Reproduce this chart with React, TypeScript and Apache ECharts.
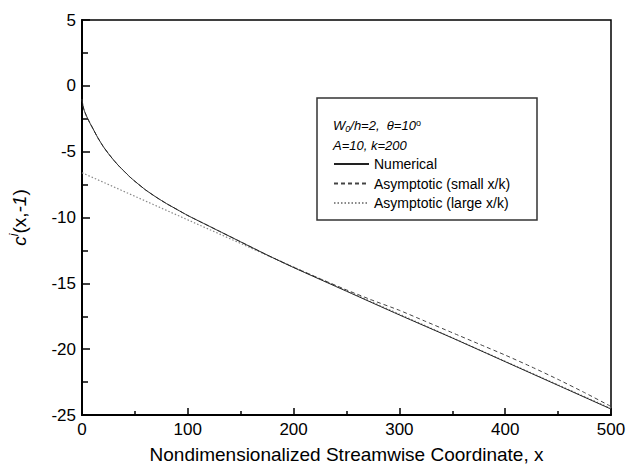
import React, { useEffect, useRef } from "react";
import * as echarts from "echarts";

const numericalX = [0, 1, 2, 4, 7, 10, 15, 20, 25, 30, 35, 40, 45, 50, 60, 70, 80, 90, 100, 115, 130, 150, 175, 200, 250, 300, 350, 400, 450, 500];
const numericalY = [-1.0, -1.55, -1.85, -2.25, -2.75, -3.2, -3.95, -4.6, -5.15, -5.65, -6.1, -6.5, -6.9, -7.25, -7.9, -8.45, -8.95, -9.4, -9.85, -10.45, -11.05, -11.85, -12.85, -13.8, -15.6, -17.4, -19.15, -20.95, -22.75, -24.55];

const smallX = [0, 1, 2, 4, 7, 10, 15, 20, 25, 30, 35, 40, 45, 50, 60, 70, 80, 90, 100, 115, 130, 150, 175, 200, 225, 250, 275, 300, 325, 350, 375, 400, 425, 450, 475, 500];
const smallY = [-1.0, -1.55, -1.85, -2.25, -2.75, -3.2, -3.95, -4.6, -5.15, -5.65, -6.1, -6.5, -6.9, -7.25, -7.9, -8.45, -8.95, -9.4, -9.85, -10.45, -11.05, -11.85, -12.85, -13.78, -14.65, -15.5, -16.3, -17.05, -17.9, -18.75, -19.6, -20.45, -21.35, -22.3, -23.3, -24.35];

const largeX = [0, 500];
const largeY = [-6.6, -24.5];

const xTicks = { min: 0, max: 500, interval: 100 };
const yTicks = { min: -25, max: 5, interval: 5 };

const seriesNames = ["Numerical", "Asymptotic (small x/k)", "Asymptotic (large x/k)"];

const FONT = "'Liberation Sans', Arial, Helvetica, sans-serif";

const zip = (xs: number[], ys: number[]) => xs.map((x, i) => [x, ys[i]]);

export default function App() {
  const ref = useRef<HTMLDivElement>(null);
  useEffect(() => {
    if (!ref.current) return;
    const chart = echarts.init(ref.current, undefined, { renderer: "svg" });
    chart.setOption({
      animation: false,
      backgroundColor: "#fff",
      grid: { left: 80, right: 18, top: 20, bottom: 52, show: true, borderColor: "#000", borderWidth: 1.5, backgroundColor: "transparent" },
      xAxis: {
        type: "value",
        min: xTicks.min,
        max: xTicks.max,
        interval: xTicks.interval,
        splitLine: { show: false },
        axisLine: { show: true, onZero: false, lineStyle: { color: "#000", width: 2 } },
        axisTick: { show: true, inside: true, length: 7, lineStyle: { color: "#000", width: 1.5 } },
        minorTick: { show: true, splitNumber: 2, length: 4, lineStyle: { color: "#000", width: 1.5 } },
        axisLabel: { color: "#000", fontSize: 17, fontFamily: FONT, margin: 6 },
        name: "Nondimensionalized Streamwise Coordinate, x",
        nameLocation: "middle",
        nameGap: 30,
        nameTextStyle: { color: "#000", fontSize: 19, fontFamily: FONT },
      },
      yAxis: {
        type: "value",
        min: yTicks.min,
        max: yTicks.max,
        interval: yTicks.interval,
        splitLine: { show: false },
        axisLine: { show: true, onZero: false, lineStyle: { color: "#000", width: 2 } },
        axisTick: { show: true, inside: true, length: 8, lineStyle: { color: "#000", width: 1.5 } },
        minorTick: { show: true, splitNumber: 2, length: 6, lineStyle: { color: "#000", width: 1.5 } },
        axisLabel: { color: "#000", fontSize: 17, fontFamily: FONT, margin: 6 },
        name: "{it|c}{sup|i}{n|(x,}{it|-1}{n|)}",
        nameLocation: "middle",
        nameRotate: 90,
        nameGap: 52,
        nameTextStyle: {
          color: "#000",
          fontSize: 19,
          fontFamily: FONT,
          rich: {
            it: { fontStyle: "italic", fontSize: 19, fontFamily: FONT, color: "#000" },
            n: { fontSize: 19, fontFamily: FONT, color: "#000" },
            sup: { fontStyle: "italic", fontSize: 12, fontFamily: FONT, color: "#000", verticalAlign: "top", padding: [0, 0, 10, 0] },
          },
        },
      },
      legend: {
        data: seriesNames,
        orient: "vertical",
        left: 333,
        top: 157,
        itemWidth: 35,
        itemHeight: 14,
        itemGap: 5.5,
        padding: 0,
        selectedMode: false,
        itemStyle: { opacity: 0 },
        formatter: (name: string) => {
          const m = name.match(/^(.*\()(x\/k)(\))$/);
          if (m) return `{n|${m[1]}}{i|${m[2]}}{n|${m[3]}}`;
          return `{n|${name}}`;
        },
        textStyle: {
          color: "#000",
          fontSize: 14,
          fontFamily: FONT,
          rich: {
            n: { fontSize: 14, fontFamily: FONT, color: "#000" },
            i: { fontSize: 14, fontFamily: FONT, color: "#000", fontStyle: "italic" },
          },
        },
      },
      graphic: [
        {
          type: "rect",
          shape: { x: 317, y: 98, width: 220, height: 122 },
          style: { fill: "#fff", stroke: "#333", lineWidth: 1.5 },
          z: 0,
        },
        {
          type: "text",
          x: 333,
          y: 118,
          style: {
            text: "{i|W}{sub|0}{i|/h=2,  θ=10}{sup|o}",
            fontFamily: FONT,
            fontSize: 13,
            fill: "#000",
            rich: {
              i: { fontStyle: "italic", fontSize: 13, fontFamily: FONT, fill: "#000" },
              sub: { fontStyle: "italic", fontSize: 9, fontFamily: FONT, fill: "#000", verticalAlign: "bottom", padding: [6, 0, 0, 0] },
              sup: { fontSize: 9, fontFamily: FONT, fill: "#000", verticalAlign: "top", padding: [0, 0, 6, 0] },
            },
          },
          z: 10,
        },
        {
          type: "text",
          x: 333,
          y: 139,
          style: {
            text: "A=10, k=200",
            fontFamily: FONT,
            fontSize: 13,
            fontStyle: "italic",
            fill: "#000",
          },
          z: 10,
        },
      ],
      series: [
        {
          name: seriesNames[2],
          type: "line",
          data: zip(largeX, largeY),
          showSymbol: false,
          symbol: "none",
          lineStyle: { color: "#888", width: 1.2, type: [1.5, 2] },
          itemStyle: { color: "#888" },
          z: 3,
        },
        {
          name: seriesNames[1],
          type: "line",
          data: zip(smallX, smallY),
          showSymbol: false,
          symbol: "none",
          smooth: 0.2,
          lineStyle: { color: "#444", width: 1, type: [4, 3] },
          itemStyle: { color: "#444" },
          z: 4,
        },
        {
          name: seriesNames[0],
          type: "line",
          data: zip(numericalX, numericalY),
          showSymbol: false,
          symbol: "none",
          smooth: 0.2,
          lineStyle: { color: "#222", width: 1 },
          itemStyle: { color: "#222" },
          z: 5,
        },
      ],
    });
    return () => chart.dispose();
  }, []);
  return <div ref={ref} style={{ width: 629, height: 469, position: "absolute", left: 0, top: 0 }} />;
}
